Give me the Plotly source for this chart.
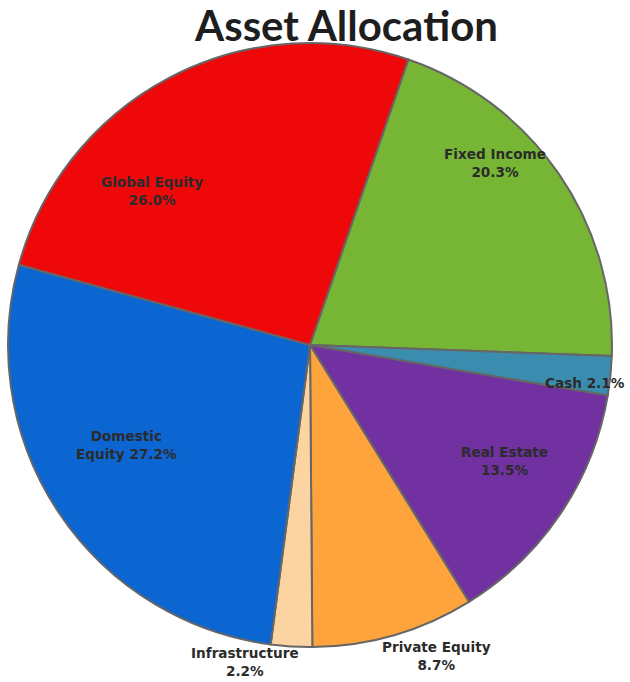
import math
import plotly.graph_objects as go

# Portfolio allocation by asset class (percent), clockwise from the top
categories = ["Fixed Income", "Cash", "Real Estate", "Private Equity",
              "Infrastructure", "Domestic Equity", "Global Equity"]
weights = [20.3, 2.1, 13.5, 8.7, 2.2, 27.2, 26.0]
label_lines = ["Fixed Income<br>", "Cash ", "Real Estate<br>", "Private Equity<br>",
               "Infrastructure<br>", "Domestic<br>Equity ", "Global Equity<br>"]

colors = ["#77B535", "#3B8DAF", "#7131A1", "#FFA33C",
          "#FBD4A2", "#0B66D2", "#EF080A"]

START_ANGLE = 19  # degrees clockwise from 12 o'clock

# label placement: radius as a fraction of the pie radius, and an angular
# nudge (degrees) away from the slice's mid-angle
label_radius = [0.86, 0.92, 0.75, 1.11, 1.07, 0.69, 0.73]
label_nudge = [-10, 2, -3, -6, 8, 5, -18]

fig = go.Figure(go.Pie(
    labels=categories,
    values=weights,
    textinfo="none",
    sort=False,
    direction="clockwise",
    rotation=START_ANGLE,
    marker=dict(colors=colors, line=dict(color="#666666", width=2)),
    showlegend=False,
    hoverinfo="label+percent",
))

# slice labels placed around the pie from the cumulative weights
total = sum(weights)
cum = 0.0
for lab, w, rf, nudge in zip(label_lines, weights, label_radius, label_nudge):
    mid = START_ANGLE + (cum + w / 2) / total * 360 + nudge
    cum += w
    th = math.radians(mid)
    fig.add_annotation(
        x=0.5 + 0.5 * rf * math.sin(th),
        y=0.5 + 0.5 * rf * math.cos(th),
        xref="paper", yref="paper",
        xanchor="center", yanchor="middle",
        text=f"<b>{lab}{w:.1f}%</b>",
        showarrow=False, align="center",
        font=dict(family="DejaVu Sans", size=13.6, color="#2b2b2b"),
    )

fig.update_layout(
    width=630, height=682,
    margin=dict(l=8, r=18, t=43, b=35),
    paper_bgcolor="white",
    title=dict(text="<b>Asset Allocation</b>", x=0.55, xanchor="center",
               y=0.962, yanchor="middle",
               font=dict(family="Lato", size=42, color="#1e1e1e")),
)

fig.write_html("out.html")
